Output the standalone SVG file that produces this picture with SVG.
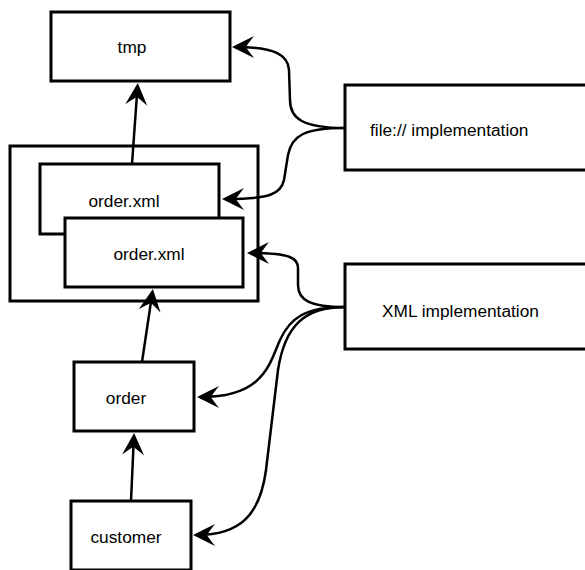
<svg xmlns="http://www.w3.org/2000/svg" width="585" height="570" viewBox="0 0 585 570">
<defs>
<style>
.box{fill:#fff;stroke:#000;stroke-width:3}
.lbl{font-family:"Liberation Sans",Arial,sans-serif;font-size:17.3px;fill:#000}
.c{text-anchor:middle}
.edge{fill:none;stroke:#000;stroke-width:2.5}
</style>
<marker id="ah" markerUnits="userSpaceOnUse" markerWidth="40" markerHeight="40" viewBox="-20 -20 40 40" refX="0" refY="0" orient="auto" overflow="visible">
<path d="M4,0 L-18,-11 Q-11,-2 -10,0 Q-11,2 -18,11 Z" fill="#000"/>
</marker>
</defs>
<g id="container"><rect class="box" x="10" y="146" width="248" height="155"/></g>
<g id="tmp"><rect class="box" x="51" y="12" width="179" height="69"/><text class="lbl c" x="132" y="53">tmp</text></g>
<g id="orderxml1"><rect class="box" x="40" y="164" width="179" height="70"/><text class="lbl c" x="124" y="207">order.xml</text></g>
<g id="orderxml2"><rect class="box" x="65" y="218" width="178" height="69"/><text class="lbl c" x="149" y="260">order.xml</text></g>
<g id="order"><rect class="box" x="74" y="362" width="120" height="69"/><text class="lbl c" x="126" y="404">order</text></g>
<g id="customer"><rect class="box" x="71" y="501" width="120" height="69"/><text class="lbl c" x="126" y="543">customer</text></g>
<g id="fileimpl"><rect class="box" x="345" y="85" width="260" height="85"/><text class="lbl" x="370" y="136">file:// implementation</text></g>
<g id="xmlimpl"><rect class="box" x="345" y="264" width="260" height="85"/><text class="lbl" x="382" y="317">XML implementation</text></g>
<g id="connectors">
<path class="edge" marker-end="url(#ah)" d="M132,164 L137.5,87"/>
<path class="edge" marker-end="url(#ah)" d="M142,362 L152.3,293"/>
<path class="edge" marker-end="url(#ah)" d="M131,501 L133.9,437"/>
<path class="edge" marker-end="url(#ah)" d="M345,128 C302,128 290,118 290,100 L289,70 C288,55 275,47 236,47"/>
<path class="edge" marker-end="url(#ah)" d="M345,128 C305,128 292,135 288,155 L284,180 C281,194 270,199 226,199"/>
<path class="edge" marker-end="url(#ah)" d="M345,307 C310,307 298,300 298,285 L298,268 C298,258 290,253 251,253"/>
<path class="edge" marker-end="url(#ah)" d="M345,307 C305,307 290,318 280,340 C270,362 265,397 201,397"/>
<path class="edge" marker-end="url(#ah)" d="M345,307 C305,307 285,325 278,370 L266,470 C260,515 240,535 197,535"/>
</g>
</svg>
